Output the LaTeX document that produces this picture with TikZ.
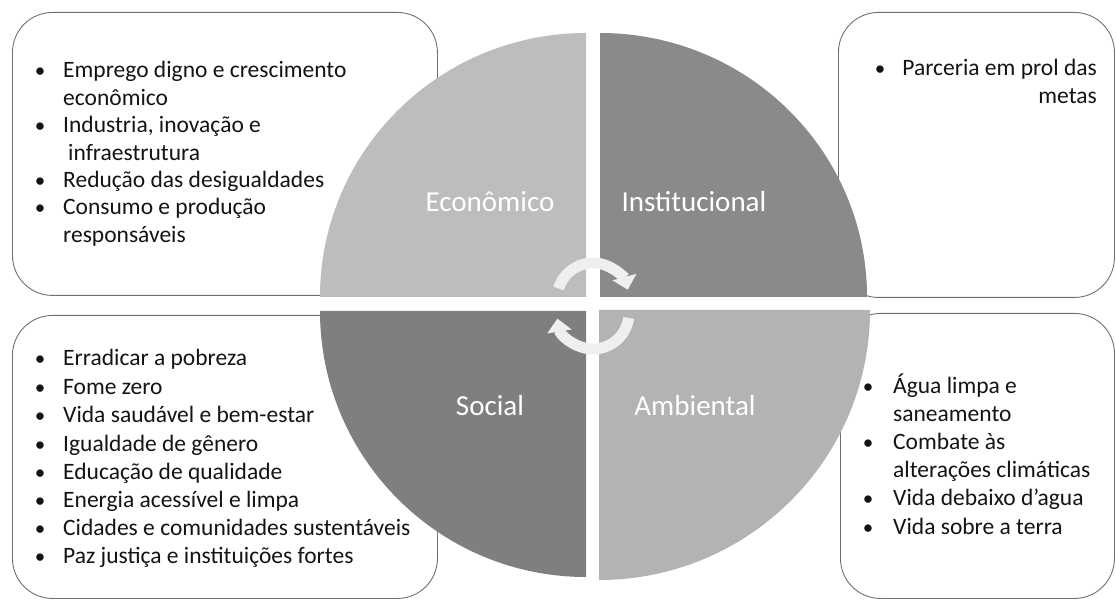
\documentclass[tikz,border=0pt]{standalone}
\usepackage{fontspec}
\setmainfont{Carlito}
\usetikzlibrary{arrows.meta,calc}
\definecolor{econ}{HTML}{BDBDBD}
\definecolor{inst}{HTML}{8A8A8A}
\definecolor{soc}{HTML}{7F7F7F}
\definecolor{amb}{HTML}{B3B3B3}
\definecolor{arr}{HTML}{EFEFEF}
\definecolor{edge}{HTML}{707070}
\definecolor{txt}{HTML}{141414}
\tikzset{
  boxst/.style={draw=edge, line width=0.9pt, fill=white, rounded corners=40pt, inner sep=0pt, anchor=north west},
  bodytxt/.style={font=\fontsize{23.5}{28}\selectfont, text=txt, inner sep=0pt, anchor=base west},
  bodyright/.style={font=\fontsize{23.5}{28}\selectfont, text=txt, inner sep=0pt, anchor=base east},
  bul/.style={font=\fontsize{21}{28}\selectfont, text=txt, inner sep=0pt, anchor=base},
  lab/.style={font=\fontsize{29}{34}\selectfont, text=white, inner sep=0pt, anchor=base},
  cyc/.style={draw=arr, line width=11pt, -{Triangle[width=24pt,length=13pt]}}
}
\begin{document}
\begin{tikzpicture}[x=1pt,y=-1pt]
\useasboundingbox (0,0) rectangle (1116,601);
% corner boxes
\node[boxst, minimum width=425pt, minimum height=283pt] (boxTL) at (12,12) {};
\node[boxst, minimum width=425pt, minimum height=283pt] (boxBL) at (12,315) {};
\node[boxst, minimum width=276pt, minimum height=285pt] (boxTR) at (838,12) {};
\node[boxst, minimum width=274pt, minimum height=285pt] (boxBR) at (840,313) {};
% quadrants
\fill[econ] (586,297) -- (320,297) arc[start angle=180, end angle=270, x radius=266, y radius=264] -- cycle;
\fill[inst] (600,297) -- (600,33) arc[start angle=270, end angle=360, x radius=267, y radius=264] -- cycle;
\fill[amb] (599,310) -- (870,310) arc[start angle=0, end angle=90, x radius=271, y radius=270] -- cycle;
\fill[soc] (586,311) -- (586,577) arc[start angle=90, end angle=180, radius=266] -- cycle;
% labels
\node[lab] (lEcon) at (490,212) {Econômico};
\node[lab] (lInst) at (694,212) {Institucional};
\node[lab] (lSoc) at (490,415) {Social};
\node[lab] (lAmb) at (695,415) {Ambiental};
% cycle arrows
\coordinate (c1) at (593,299);
\coordinate (c2) at (593,313);
\draw[cyc] ($(c1)+(-163:36)$) arc[start angle=-163, end angle=-15, radius=36];
\draw[cyc] ($(c2)+(8:36)$) arc[start angle=8, end angle=171, radius=36];
% top-left text
\node[bul] (b1) at (40,78) {•};
\node[bodytxt] (t1) at (63,78) {Emprego digno e crescimento};
\node[bodytxt] (t2) at (63,106) {econômico};
\node[bul] (b3) at (40,133) {•};
\node[bodytxt] (t3) at (63,133) {Industria, inovação e};
\node[bodytxt] (t4) at (68,161) {infraestrutura};
\node[bul] (b5) at (40,188) {•};
\node[bodytxt] (t5) at (63,188) {Redução das desigualdades};
\node[bul] (b6) at (40,215) {•};
\node[bodytxt] (t6) at (63,215) {Consumo e produção};
\node[bodytxt] (t7) at (63,243) {responsáveis};
% top-right text
\node[bul] (r1b) at (880,76) {•};
\node[bodyright] (r1) at (1097,76) {Parceria em prol das};
\node[bodyright] (r2) at (1097,104) {metas};
% bottom-left text
\node[bul] (s1b) at (40,366) {•};
\node[bodytxt] (s1) at (63,366) {Erradicar a pobreza};
\node[bul] (s2b) at (40,394) {•};
\node[bodytxt] (s2) at (63,394) {Fome zero};
\node[bul] (s3b) at (40,422) {•};
\node[bodytxt] (s3) at (63,422) {Vida saudável e bem-estar};
\node[bul] (s4b) at (40,451) {•};
\node[bodytxt] (s4) at (63,451) {Igualdade de gênero};
\node[bul] (s5b) at (40,479) {•};
\node[bodytxt] (s5) at (63,479) {Educação de qualidade};
\node[bul] (s6b) at (40,507) {•};
\node[bodytxt] (s6) at (63,507) {Energia acessível e limpa};
\node[bul] (s7b) at (40,535) {•};
\node[bodytxt] (s7) at (63,535) {Cidades e comunidades sustentáveis};
\node[bul] (s8b) at (40,563) {•};
\node[bodytxt] (s8) at (63,563) {Paz justiça e instituições fortes};
% bottom-right text
\node[bul] (a1b) at (868,393) {•};
\node[bodytxt] (a1) at (893,393) {Água limpa e};
\node[bodytxt] (a2) at (893,421) {saneamento};
\node[bul] (a3b) at (868,449) {•};
\node[bodytxt] (a3) at (893,449) {Combate às};
\node[bodytxt] (a4) at (893,477) {alterações climáticas};
\node[bul] (a5b) at (868,505) {•};
\node[bodytxt] (a5) at (893,505) {Vida debaixo d’agua};
\node[bul] (a6b) at (868,534) {•};
\node[bodytxt] (a6) at (893,534) {Vida sobre a terra};
\end{tikzpicture}
\end{document}
